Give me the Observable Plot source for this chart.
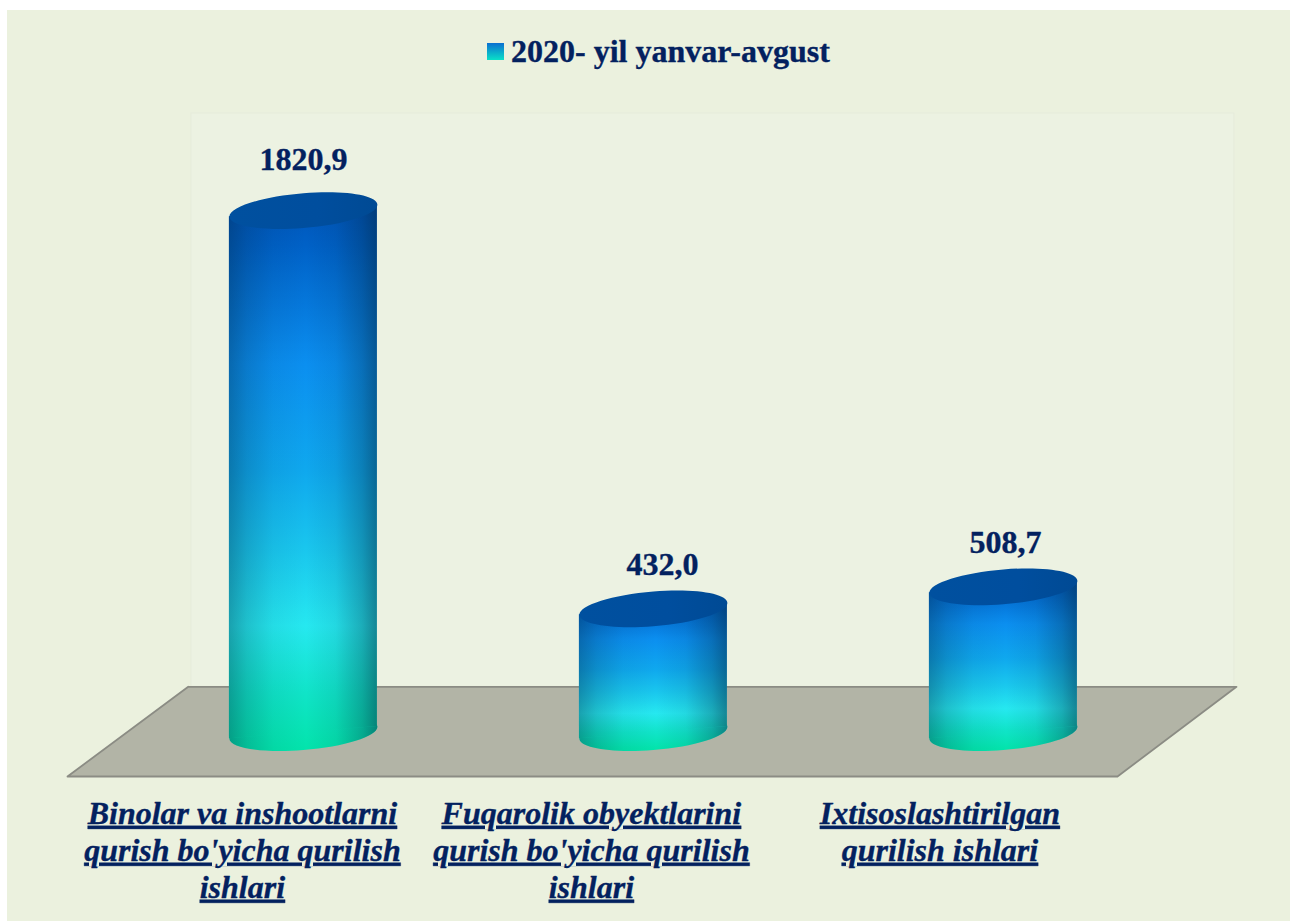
<!DOCTYPE html>
<html><head><meta charset="utf-8">
<script src="https://cdn.jsdelivr.net/npm/d3@7"></script>
<script src="https://cdn.jsdelivr.net/npm/@observablehq/plot@0.6"></script>
<style>
html,body{margin:0;padding:0;background:#fff;width:1290px;height:921px;overflow:hidden}
#panel{position:absolute;left:7px;top:10px;width:1283px;height:911px;background:#ebf1de}
#chart{position:absolute;left:0;top:0}
#chart svg{background:transparent;display:block}
#legend{position:absolute;left:487px;top:33px;display:flex;align-items:center;font:bold 32px "Liberation Serif",serif;color:#03215f;line-height:37px;white-space:nowrap;-webkit-text-stroke:.35px #03215f}
#legend i{display:block;width:17px;height:17px;margin-right:7px;background:linear-gradient(#0a6fd0,#0ae0c8)}
.cat text{text-decoration:underline}
</style></head><body>
<div id="panel"></div>
<div id="chart"></div>
<div id="legend"><i></i><span>2020- yil yanvar-avgust</span></div>
<script>
const seriesName = "2020- yil yanvar-avgust";
const categories = ["Binolar va inshootlarni\nqurish bo'yicha qurilish\nishlari","Fuqarolik obyektlarini\nqurish bo'yicha qurilish\nishlari","Ixtisoslashtirilgan\nqurilish ishlari"];
const values = [1820.9, 432.0, 508.7];
const valueLabels = ["1820,9","432,0","508,7"];

const data = values.map((v,i)=>({i,v,cat:categories[i],label:valueLabels[i]}));
const halfW = 0.2114, skew = 21;          // cylinder half width (category units), tilt (value units)
const floorY = [160,-153], wallTop = 2160;
const wall = [-0.32,2.66];
const floor = [{x:-0.329,y:160},{x:2.666,y:160},{x:2.326,y:-153},{x:-0.674,y:-153},{x:-0.329,y:160}];

// tilted ellipse symbol
const tilted = ratio => ({draw(c,size){
  const a=Math.sqrt(size/Math.PI), b=a*ratio, k=0.08, K=0.5523;
  const P=(x,y)=>[x,y-k*x];
  c.moveTo(...P(-a,0));
  c.bezierCurveTo(...P(-a,-K*b),...P(-K*a,-b),...P(0,-b));
  c.bezierCurveTo(...P(K*a,-b),...P(a,-K*b),...P(a,0));
  c.bezierCurveTo(...P(a,K*b),...P(K*a,b),...P(0,b));
  c.bezierCurveTo(...P(-K*a,b),...P(-a,K*b),...P(-a,0));
  c.closePath();
}});
const sym = tilted(0.235);

const stops = [[0,"#0050b4"],[0.1,"#0062c8"],[0.31,"#0b8ff0"],[0.5,"#0fa8ee"],[0.65,"#1ac8ee"],[0.78,"#26e8f0"],[0.9,"#10e4c8"],[1,"#03e4ac"]];
const defsMark = (index, {y}) => {
  const defs = d3.create("svg:defs");
  data.forEach(d=>{
    const g = defs.append("linearGradient").attr("id","body"+d.i).attr("gradientUnits","userSpaceOnUse")
      .attr("x1",0).attr("x2",0).attr("y1",y(d.v)-18).attr("y2",y(0)+16);
    stops.forEach(([o,c])=>g.append("stop").attr("offset",o).attr("stop-color",c));
    // the foot dot is drawn in its own translated coordinates, with y(0) as origin
    const f = defs.append("linearGradient").attr("id","foot"+d.i).attr("gradientUnits","userSpaceOnUse")
      .attr("x1",0).attr("x2",0).attr("y1",y(d.v)-18-y(0)).attr("y2",16);
    stops.forEach(([o,c])=>f.append("stop").attr("offset",o).attr("stop-color",c));
  });
  const s = defs.append("linearGradient").attr("id","shade");
  [[0,.36],[0.12,.2],[0.3,.06],[0.52,0],[0.72,.08],[0.9,.3],[1,.5]]
    .forEach(([o,a])=>s.append("stop").attr("offset",o).attr("stop-color","#03233a").attr("stop-opacity",a));
  const t = defs.append("linearGradient").attr("id","cap");
  [[0,"#00509f"],[0.6,"#004e9e"],[1,"#004a94"]]
    .forEach(([o,c])=>t.append("stop").attr("offset",o).attr("stop-color",c));
  return defs.node();
};

const cylinder = d => {
  const pts = [{x:d.i-halfW,y1:-skew,y2:d.v-skew},{x:d.i+halfW,y1:skew,y2:d.v+skew}];
  const one=[d];
  return [
    Plot.dot(one,{x:"i",y:()=>0,r:74,symbol:sym,fill:`url(#foot${d.i})`,stroke:null}),
    Plot.dot(one,{x:"i",y:()=>0,r:74,symbol:sym,fill:"url(#shade)",stroke:null}),
    Plot.areaY(pts,{x:"x",y1:"y1",y2:"y2",fill:`url(#body${d.i})`}),
    Plot.areaY(pts,{x:"x",y1:"y1",y2:"y2",fill:"url(#shade)"}),
    Plot.dot(one,{x:"i",y:"v",r:74,symbol:sym,fill:"url(#cap)",stroke:null})
  ];
};

const textStyle = {fontWeight:"bold",fontFamily:"Liberation Serif",fill:"#03215f",stroke:"#03215f",strokeWidth:.35};
const catLabel = (i,dx) => Plot.text(data.filter(d=>d.i===i),{x:"i",y:()=>-153,text:"cat",dx,dy:21,lineAnchor:"top",lineHeight:1.155,fontSize:32,fontStyle:"italic",className:"cat",...textStyle});
const chart = Plot.plot({
  width:1290,height:921,margin:0,
  style:{background:"transparent"},
  x:{domain:[-0.674,2.666],range:[67,1236],axis:null},
  y:{domain:[-153,2170],range:[776,110.1],axis:null},
  marks:[
    defsMark,
    Plot.rect([{}],{x1:()=>wall[0],x2:()=>wall[1],y1:()=>floorY[0],y2:()=>wallTop,fill:"#ecf2e2",stroke:"#e6ebdb",strokeWidth:1}),
    Plot.line(floor,{x:"x",y:"y",fill:"#b2b4a6",stroke:"#8b8c84",strokeWidth:1.8,curve:"linear"}),
    ...data.flatMap(cylinder),
    Plot.text(data.filter(d=>d.i===0),{x:"i",y:"v",text:"label",dy:-51,fontSize:32,...textStyle}),
    Plot.text(data.filter(d=>d.i===1),{x:"i",y:"v",text:"label",dx:9,dy:-44,fontSize:32,...textStyle}),
    Plot.text(data.filter(d=>d.i===2),{x:"i",y:"v",text:"label",dx:2,dy:-44,fontSize:32,...textStyle}),
    catLabel(0,-61), catLabel(1,-62), catLabel(2,-63.5)
  ]
});
document.getElementById("chart").append(chart);
</script>
</body></html>
